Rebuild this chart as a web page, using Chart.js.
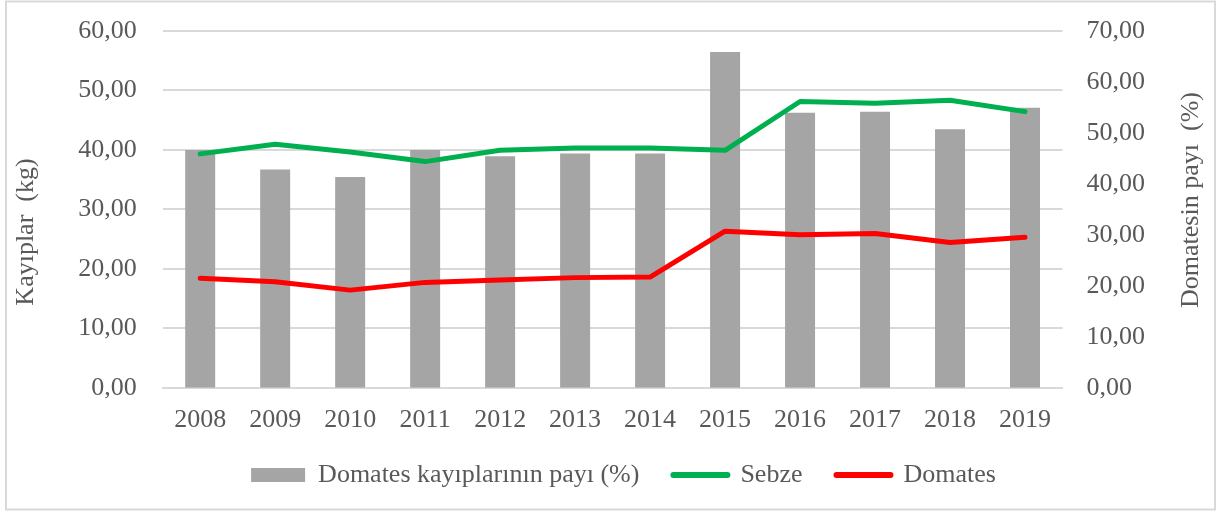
<!DOCTYPE html>
<html>
<head>
<meta charset="utf-8">
<script src="https://cdn.jsdelivr.net/npm/chart.js@4/dist/chart.umd.min.js"></script>
<style>
  html, body { margin: 0; padding: 0; background: #ffffff; }
  #wrap { position: relative; width: 1219px; height: 513px; }
</style>
</head>
<body>
<div id="wrap"><canvas id="c" width="1219" height="513"></canvas></div>
<script>
const years = ['2008','2009','2010','2011','2012','2013','2014','2015','2016','2017','2018','2019'];
const domatesPayi = [46.6, 42.8, 41.3, 46.6, 45.4, 45.9, 45.9, 65.8, 53.9, 54.1, 50.7, 54.9];
const sebze = [39.3, 40.9, 39.6, 38.0, 39.9, 40.3, 40.3, 39.9, 48.1, 47.8, 48.3, 46.4];
const domates = [18.4, 17.8, 16.4, 17.7, 18.1, 18.5, 18.6, 26.3, 25.7, 25.9, 24.4, 25.3];
const seriesNames = ['Domates kayıplarının payı (%)', 'Sebze', 'Domates'];
const leftTitle = 'Kayıplar  (kg)';
const rightTitle = 'Domatesin payı  (%)';

const FONT = 'Liberation Serif';
const TXT = '#595959';
const fmt = v => Number(v).toFixed(2).replace('.', ',');

const frame = {
  id: 'frame',
  beforeDraw(chart) {
    const ctx = chart.ctx;
    ctx.save();
    ctx.fillStyle = '#fff';
    ctx.fillRect(0, 0, chart.width, chart.height);
    ctx.strokeStyle = '#d9d9d9';
    ctx.lineWidth = 2;
    ctx.strokeRect(6, 1.5, 1209, 508);
    ctx.restore();
  },
  afterDraw(chart) {
    const ctx = chart.ctx;
    ctx.save();
    ctx.fillStyle = TXT;
    ctx.font = '26px "' + FONT + '"';
    ctx.textAlign = 'center';
    ctx.textBaseline = 'middle';
    ctx.translate(26, 232);
    ctx.rotate(-Math.PI / 2);
    ctx.fillText(leftTitle, 0, 0);
    ctx.restore();
    ctx.save();
    ctx.fillStyle = TXT;
    ctx.font = '26px "' + FONT + '"';
    ctx.textAlign = 'center';
    ctx.textBaseline = 'middle';
    ctx.translate(1191, 200);
    ctx.rotate(-Math.PI / 2);
    ctx.fillText(rightTitle, 0, 0);
    ctx.restore();
  }
};

new Chart(document.getElementById('c'), {
  data: {
    labels: years,
    datasets: [
      { type: 'bar', label: seriesNames[0], data: domatesPayi, yAxisID: 'y1',
        backgroundColor: '#a5a5a5', barPercentage: 1, categoryPercentage: 0.4, order: 3 },
      { type: 'line', label: seriesNames[1], data: sebze, yAxisID: 'y',
        borderColor: '#00b050', backgroundColor: '#00b050', borderWidth: 5, pointRadius: 0,
        borderJoinStyle: 'round', borderCapStyle: 'round', tension: 0, order: 2 },
      { type: 'line', label: seriesNames[2], data: domates, yAxisID: 'y',
        borderColor: '#ff0000', backgroundColor: '#ff0000', borderWidth: 5, pointRadius: 0,
        borderJoinStyle: 'round', borderCapStyle: 'round', tension: 0, order: 1 }
    ]
  },
  options: {
    responsive: false,
    animation: false,
    layout: { padding: { top: 30.7, bottom: 15, left: 28, right: 0 } },
    plugins: {
      tooltip: { enabled: false },
      legend: {
        position: 'bottom',
        labels: {
          font: { family: FONT, size: 26 },
          color: TXT,
          usePointStyle: true,
          pointStyleWidth: 54,
          boxHeight: 14,
          padding: 34,
          generateLabels(chart) {
            return chart.data.datasets.map((ds, i) => ({
              text: ds.label,
              datasetIndex: i,
              fillStyle: ds.type === 'bar' ? ds.backgroundColor : ds.borderColor,
              strokeStyle: ds.type === 'bar' ? ds.backgroundColor : ds.borderColor,
              lineWidth: ds.type === 'bar' ? 0 : 6,
              lineCap: 'round',
              pointStyle: ds.type === 'bar' ? 'rect' : 'line',
              fontColor: TXT,
              hidden: false
            }));
          }
        }
      }
    },
    scales: {
      x: {
        grid: { display: false, drawTicks: false },
        border: { display: true, color: '#d9d9d9', width: 2 },
        ticks: { font: { family: FONT, size: 26 }, color: TXT, padding: 17 },
        afterFit(s) { s.height = 40.3; }
      },
      y: {
        position: 'left', min: 0, max: 60,
        grid: { color: '#d9d9d9', lineWidth: 2, drawTicks: false },
        border: { display: false },
        ticks: { stepSize: 10, font: { family: FONT, size: 26 }, color: TXT, padding: 26, callback: fmt },
        afterFit(s) { s.width = 162.7 - 28; s.paddingTop = 0; s.paddingBottom = 0; }
      },
      y1: {
        position: 'right', min: 0, max: 70,
        grid: { display: false, drawTicks: false },
        border: { display: false },
        ticks: { stepSize: 10, font: { family: FONT, size: 26 }, color: TXT, padding: 24, callback: fmt },
        afterFit(s) { s.width = 1219 - 1062.5; s.paddingTop = 0; s.paddingBottom = 0; }
      }
    }
  },
  plugins: [frame]
});
</script>
</body>
</html>
